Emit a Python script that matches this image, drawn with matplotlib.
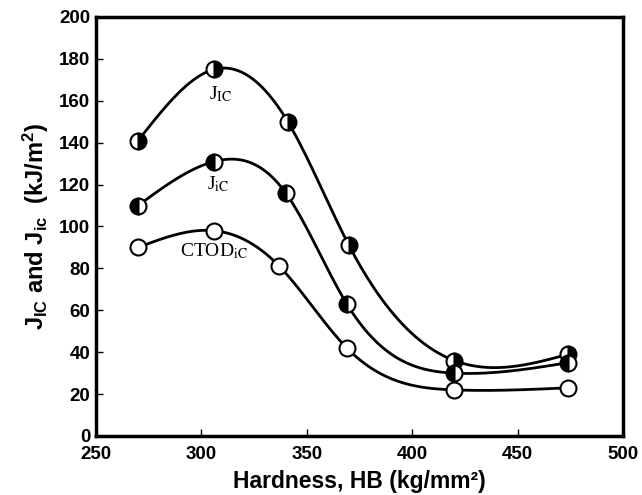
import matplotlib
matplotlib.use("Agg")
import matplotlib.pyplot as plt
import numpy as np

# Données
hb_jic = [270, 306, 341, 370, 420, 474]
jic = [141, 175, 150, 91, 36, 39]          # J_IC (demi-disque à droite)
hb_jic2 = [270, 306, 340, 369, 420, 474]
jic2 = [110, 131, 116, 63, 30, 35]         # J_iC (demi-disque à gauche)
hb_ctod = [270, 306, 337, 369, 420, 474]
ctod = [90, 98, 81, 42, 22, 23]            # CTOD_iC (cercle vide)


def spline(x, y, n=300):
    # spline cubique naturelle, juste pour tracer la courbe lissée
    x = np.asarray(x, float)
    y = np.asarray(y, float)
    k = len(x)
    h = np.diff(x)
    A = np.zeros((k, k))
    b = np.zeros(k)
    A[0, 0] = A[-1, -1] = 1
    for i in range(1, k - 1):
        A[i, i - 1] = h[i - 1]
        A[i, i] = 2 * (h[i - 1] + h[i])
        A[i, i + 1] = h[i]
        b[i] = 6 * ((y[i + 1] - y[i]) / h[i] - (y[i] - y[i - 1]) / h[i - 1])
    M = np.linalg.solve(A, b)
    xs = np.linspace(x[0], x[-1], n)
    idx = np.clip(np.searchsorted(x, xs) - 1, 0, k - 2)
    x0, x1 = x[idx], x[idx + 1]
    hh = x1 - x0
    t0, t1 = x1 - xs, xs - x0
    ys = (M[idx] * t0**3 + M[idx + 1] * t1**3) / (6 * hh) \
        + (y[idx] / hh - M[idx] * hh / 6) * t0 \
        + (y[idx + 1] / hh - M[idx + 1] * hh / 6) * t1
    return xs, ys


plt.rcParams['mathtext.fontset'] = 'custom'
plt.rcParams['mathtext.bf'] = 'Liberation Sans:bold'
plt.rcParams['mathtext.rm'] = 'Liberation Sans:bold'

fig = plt.figure(figsize=(6.42, 4.95), dpi=100)
ax = fig.add_axes([0.1495, 0.1192, 0.8209, 0.8465])

series = [(hb_jic, jic, 'right'), (hb_jic2, jic2, 'left'), (hb_ctod, ctod, 'none')]
for x, y, fs in series:
    xs, ys = spline(x, y)
    ax.plot(xs, ys, color='black', lw=2, zorder=2)
    if fs == 'none':
        ax.plot(x, y, 'o', ms=11.5, mfc='white', mec='black', mew=1.5, zorder=3)
    else:
        ax.plot(x, y, 'o', ms=11.5, fillstyle=fs, mfc='black', mfcalt='white',
                mec='black', mew=1.5, zorder=3)

txt = dict(family='Liberation Serif', fontsize=14, math_fontfamily='stix',
           ha='center', va='center')
ax.text(309, 163, r'J$_{\mathrm{IC}}$', **txt)
ax.text(308, 120, r'J$_{\mathrm{iC}}$', **txt)
ax.text(306, 88, r'CTOD$_{\mathrm{iC}}$', **txt)

ax.set_xlim(250, 500)
ax.set_ylim(0, 200)
ax.set_xticks(range(250, 501, 50))
ax.set_yticks(range(0, 201, 20))
ax.tick_params(direction='in', length=5, width=1, labelsize=13.5)
ax.tick_params(axis='x', pad=7)
ax.tick_params(axis='y', pad=4)
for lab in ax.get_xticklabels() + ax.get_yticklabels():
    lab.set_family('Liberation Sans')
    lab.set_fontweight('bold')
for s in ax.spines.values():
    s.set_linewidth(2.5)

ax.set_xlabel('Hardness, HB (kg/mm\u00b2)', family='Liberation Sans',
              fontweight='bold', fontsize=16.5, labelpad=5)
ax.set_ylabel(r'$\mathbf{J_{IC}}$ and $\mathbf{J_{ic}}$  (kJ/m$\mathbf{^2}$)',
              family='Liberation Sans', fontweight='bold', fontsize=17, labelpad=6)

fig.savefig('out.png', dpi=100)
